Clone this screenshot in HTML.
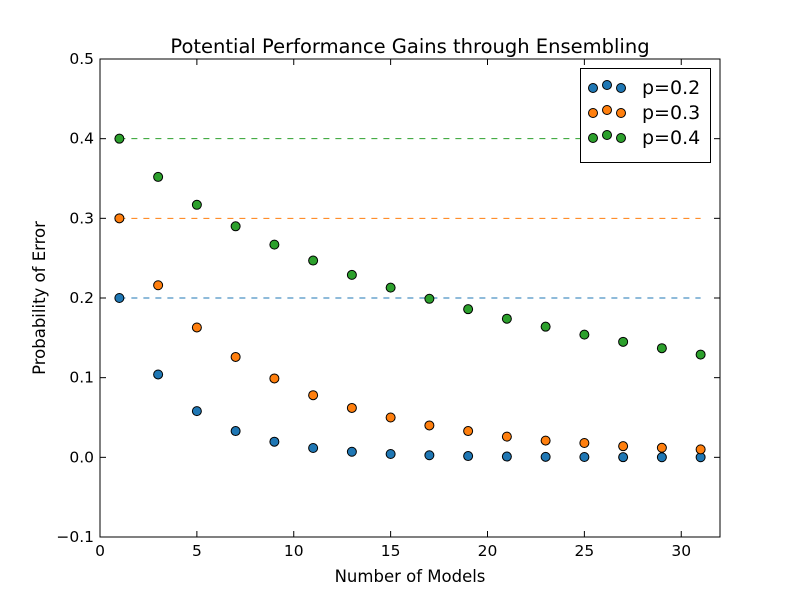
<!DOCTYPE html>
<html><head><meta charset="utf-8"><style>
body{margin:0;background:#fff;}
svg text{font-family:"DejaVu Sans","Liberation Sans",sans-serif;}
</style></head><body>
<svg id="chart" width="800" height="597" xmlns="http://www.w3.org/2000/svg">
<rect x="0" y="0" width="800" height="597" fill="#fff"/>
<text x="410" y="53" text-anchor="middle" font-size="19.5">Potential Performance Gains through Ensembling</text>
<text x="410" y="582" text-anchor="middle" font-size="16.5">Number of Models</text>
<text x="45" y="298" text-anchor="middle" font-size="16.5" transform="rotate(-90 45 298)">Probability of Error</text>
<g id="plot"></g>
<rect x="100" y="59" width="620" height="478" fill="none" stroke="#000" stroke-width="1"/>
<g>
<rect x="580.5" y="68.5" width="130" height="94" fill="#fff" stroke="#000"/>
<g id="legend-items"></g>
</g>
</svg>
<script>
const nModels=[1,3,5,7,9,11,13,15,17,19,21,23,25,27,29,31];
const p2=[0.2,0.104,0.058,0.033,0.0196,0.0117,0.0070,0.0042,0.0026,0.0016,0.0010,0.0006,0.0004,0.0002,0.0001,0.0001];
const p3=[0.3,0.216,0.163,0.126,0.099,0.078,0.062,0.050,0.040,0.033,0.026,0.021,0.018,0.014,0.012,0.010];
const p4=[0.4,0.352,0.317,0.290,0.267,0.247,0.229,0.213,0.199,0.186,0.174,0.164,0.154,0.145,0.137,0.129];
const seriesLabels=["p=0.2","p=0.3","p=0.4"];
const baseRates=[0.2,0.3,0.4];
const xTicks=[0,5,10,15,20,25,30];
const yTicks=[-0.1,0.0,0.1,0.2,0.3,0.4,0.5];
const colors=["#1f77b4","#ff7f0e","#2ca02c"];
const NS="http://www.w3.org/2000/svg";
const X=v=>100+(v-0)*620/32;
const Y=v=>537-(v+0.1)*478/0.6;
const plot=document.getElementById('plot');
function mk(tag,attrs,parent){const e=document.createElementNS(NS,tag);for(const k in attrs)e.setAttribute(k,attrs[k]);parent.appendChild(e);return e;}
xTicks.forEach(t=>{
  const l=mk('line',{x1:X(t),x2:X(t),y1:537,y2:531,stroke:'#000'},plot);
  
  
  const l2=mk('line',{x1:X(t),x2:X(t),y1:59,y2:65,stroke:'#000'},plot);
  
  
  const tx=mk('text',{x:X(t),y:556,'text-anchor':'middle','font-size':15.5},plot);
  tx.textContent=t;
  
  
});
yTicks.forEach(t=>{
  const l=mk('line',{x1:100,x2:106,y1:Y(t),y2:Y(t),stroke:'#000'},plot);
  
  
  const l2=mk('line',{x1:714,x2:720,y1:Y(t),y2:Y(t),stroke:'#000'},plot);
  
  
  const tx=mk('text',{x:94,y:Y(t)+5,'text-anchor':'end','font-size':15.5},plot);
  tx.textContent=(t<0?'\u22120.1':t.toFixed(1));
  
  
});
baseRates.forEach((r,i)=>{
  const l=mk('line',{x1:X(nModels[0]),x2:X(nModels[nModels.length-1]),y1:Y(r),y2:Y(r),stroke:colors[i],'stroke-dasharray':'6,6','stroke-width':1},plot);
  
  
});
[p2,p3,p4].forEach((s,i)=>{
  s.forEach((v,j)=>{
    const c=mk('circle',{cx:X(nModels[j]),cy:Y(v),r:4.5,fill:colors[i],stroke:'#000','stroke-width':1},plot);
    
    
  });
});
const lg=document.getElementById('legend-items');
seriesLabels.forEach((lab,i)=>{
  const y=87+i*25;
  [593,607,621].forEach((x,k)=>{
    const c=mk('circle',{cx:x,cy:y+(k==1?-2:1),r:4.5,fill:colors[i],stroke:'#000'},lg);
    
    
  });
  const t=mk('text',{x:642,y:y+7,'font-size':19},lg);
  t.textContent=lab;
  
  
});
</script>
</body></html>
